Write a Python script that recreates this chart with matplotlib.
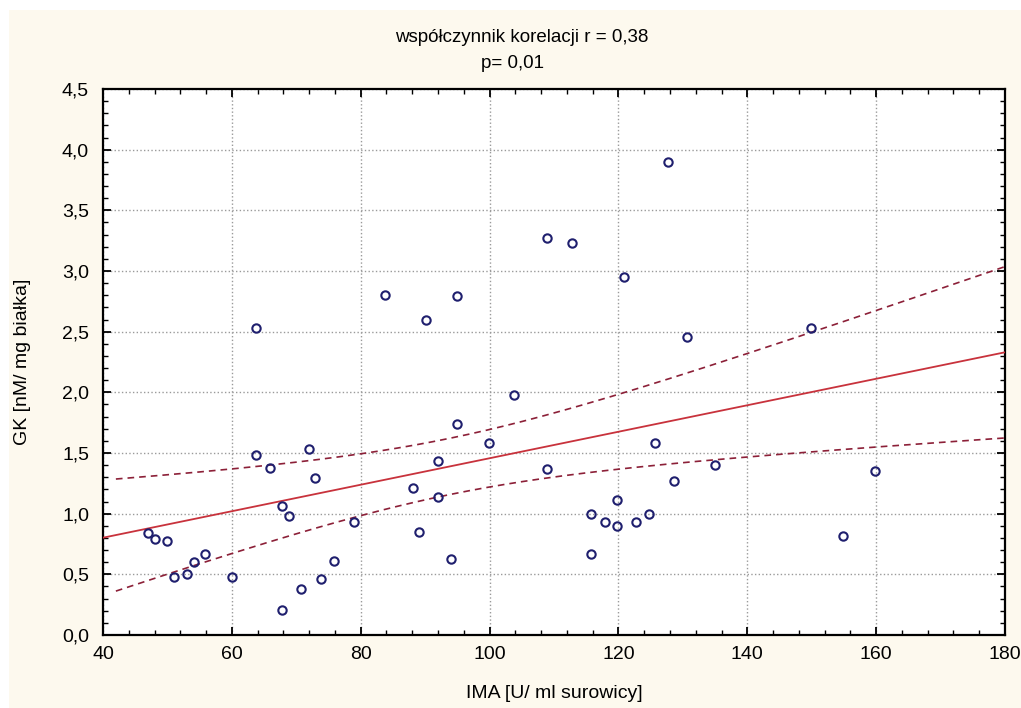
import numpy as np
import matplotlib.pyplot as plt
from matplotlib.patches import Rectangle
from matplotlib.ticker import MultipleLocator, FuncFormatter

plt.rcParams['font.family'] = ['Liberation Sans', 'DejaVu Sans']

# IMA [U/ml] vs GK [nM/mg protein]
ima = [127.7, 108.9, 112.8, 120.8, 83.8, 95.0, 90.1, 63.8, 149.9, 130.7,
       103.8, 95.0, 63.8, 65.9, 71.9, 72.9, 67.8, 68.9, 78.9, 47.0,
       48.1, 50.0, 51.0, 53.0, 54.1, 55.9, 60.0, 67.8, 70.8, 73.8,
       75.9, 99.9, 92.0, 88.1, 92.0, 89.0, 94.0, 108.9, 125.7, 119.8,
       115.8, 117.9, 119.8, 122.7, 124.8, 115.8, 135.0, 128.7, 159.8, 154.8]
gk = [3.90, 3.27, 3.23, 2.95, 2.80, 2.79, 2.60, 2.53, 2.53, 2.46,
      1.98, 1.74, 1.48, 1.38, 1.53, 1.29, 1.06, 0.98, 0.93, 0.84,
      0.79, 0.775, 0.48, 0.50, 0.60, 0.67, 0.48, 0.21, 0.38, 0.46,
      0.61, 1.58, 1.43, 1.21, 1.14, 0.85, 0.63, 1.37, 1.58, 1.11,
      1.00, 0.93, 0.90, 0.93, 1.00, 0.67, 1.40, 1.27, 1.35, 0.82]

x = np.array(ima)
y = np.array(gk)
n = len(x)

# linear fit + 95% confidence band
b, a = np.polyfit(x, y, 1)
resid = y - (a + b * x)
s = np.sqrt(np.sum(resid ** 2) / (n - 2))
t = 2.011
sxx = np.sum((x - x.mean()) ** 2)

xs = np.linspace(40, 180, 200)
fit = a + b * xs
xc = np.linspace(42, 180, 200)
half = t * s * np.sqrt(1.0 / n + (xc - x.mean()) ** 2 / sxx)
upper = a + b * xc + half
lower = a + b * xc - half

fig = plt.figure(figsize=(10.21, 7.08), dpi=100)
fig.patch.set_facecolor('white')
fig.patches.append(Rectangle((9 / 1021, 0), 1, 698 / 708, transform=fig.transFigure,
                             facecolor='#fdf9ee', edgecolor='none', zorder=-10))

ax = fig.add_axes([103 / 1021, 73 / 708, 902 / 1021, 546 / 708])
ax.set_facecolor('white')

ax.plot(xs, fit, color='#c8323c', lw=1.3, zorder=3)
ax.plot(xc, upper, color='#8c2038', lw=1.2, ls=(0, (4, 3)), zorder=3)
ax.plot(xc, lower, color='#8c2038', lw=1.2, ls=(0, (4, 3)), zorder=3)
ax.plot(x, y, 'o', mfc='none', mec='#1f1f6e', mew=1.5, ms=6, zorder=4)

ax.set_xlim(40, 180)
ax.set_ylim(0, 4.5)
ax.xaxis.set_major_locator(MultipleLocator(20))
ax.xaxis.set_minor_locator(MultipleLocator(4))
ax.yaxis.set_major_locator(MultipleLocator(0.5))
ax.yaxis.set_minor_locator(MultipleLocator(0.1))
ax.yaxis.set_major_formatter(FuncFormatter(lambda v, p: f'{v:.1f}'.replace('.', ',')))

ax.grid(True, which='major', color='#9a9a9a', ls=':', lw=1.0)
ax.set_axisbelow(True)
for sp in ax.spines.values():
    sp.set_linewidth(1.6)
    sp.set_color('black')
ax.tick_params(which='both', direction='in', top=True, right=True, color='black')
ax.tick_params(which='major', length=6, width=1.3, labelsize=14, pad=8)
ax.tick_params(which='minor', length=3.5, width=1.0)
ax.tick_params(axis='y', which='major', pad=10)

ax.set_xlabel('IMA [U/ ml surowicy]', fontsize=14, labelpad=16)
ax.set_ylabel('GK [nM/ mg białka]', fontsize=14, labelpad=22)

fig.text(522 / 1021, 1 - 37 / 708, 'współczynnik korelacji r = 0,38', ha='center', va='center', fontsize=13.5)
fig.text(512 / 1021, 1 - 63 / 708, 'p= 0,01', ha='center', va='center', fontsize=13.5)

fig.savefig('out.png', dpi=100)
